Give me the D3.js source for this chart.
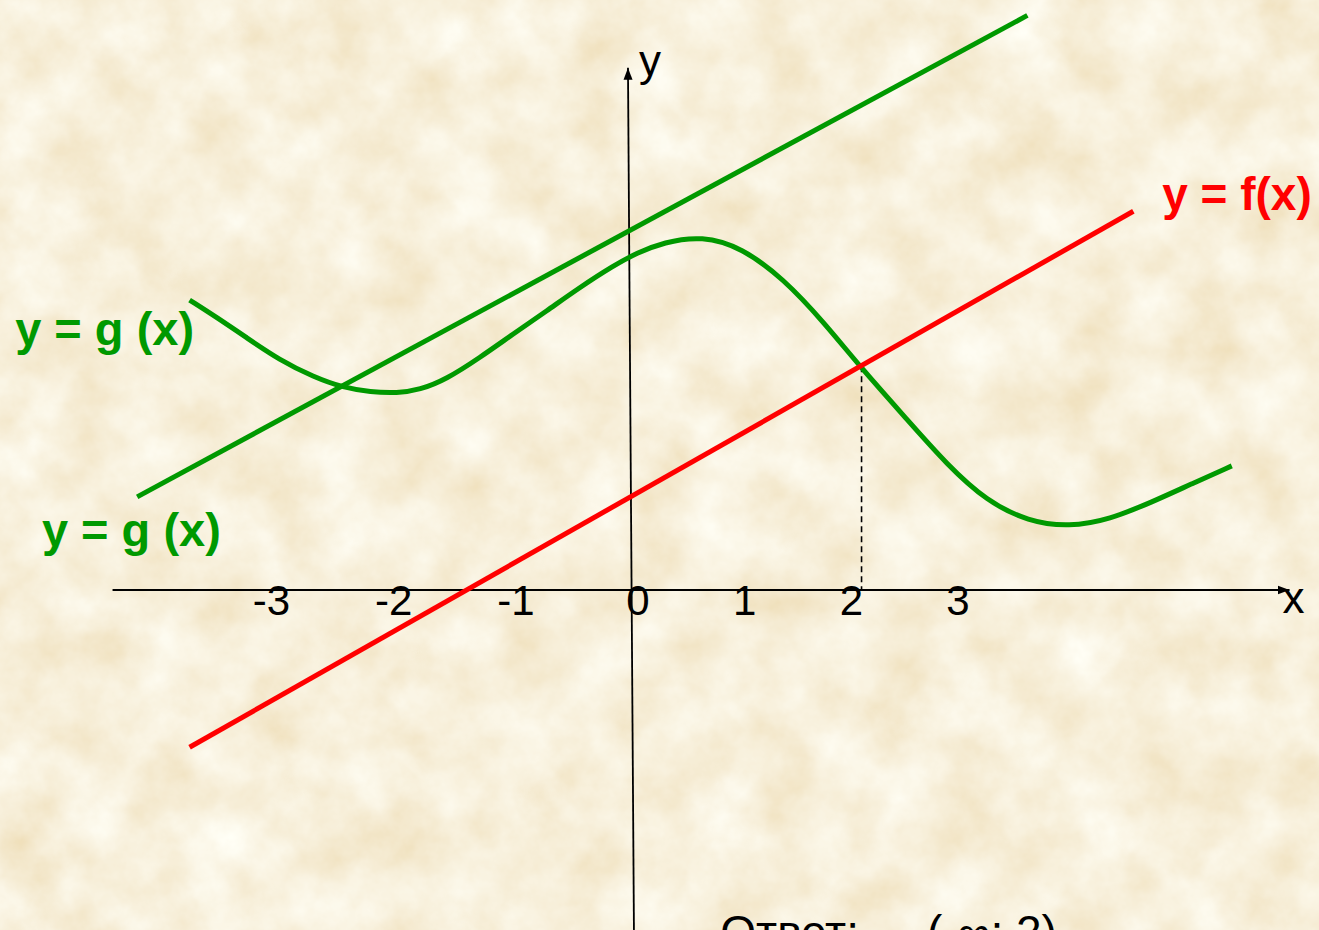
<!DOCTYPE html>
<html>
<head>
<meta charset="utf-8">
<script src="https://cdn.jsdelivr.net/npm/d3@7"></script>
<style>
  html, body { margin: 0; padding: 0; overflow: hidden; background: #efdcb5; }
  svg { display: block; }
  text { font-family: "Liberation Sans", Arial, sans-serif; }
</style>
</head>
<body>
<svg id="chart"></svg>
<script>
// размеры страницы
const width = 1319;
const height = 930;

// подписи оси x
const tickValues = [-3, -2, -1, 0, 1, 2, 3];

// y = f(x): прямая (концы отрезка)
const fLine = [[-4.13, -1.47], [4.69, 3.54]];

// y = g(x): касательная прямая
const gLine = [[-4.62, 0.87], [3.70, 5.37]];

// y = g(x): кривая, точки
const gCurveX = [-4.13, -3.88, -3.60, -3.29, -2.97, -2.69, -2.44, -2.19, -1.98, -1.73, -1.42, -1.11, -0.79, -0.48, -0.17, 0.05,
                 0.30, 0.66, 1.03, 1.42, 1.80, 2.15, 2.57, 2.95, 3.32, 3.71, 4.09, 4.47, 4.86, 5.23, 5.61];
const gCurveY = [2.71, 2.55, 2.36, 2.15, 1.99, 1.89, 1.85, 1.84, 1.87, 1.97, 2.17, 2.39, 2.61, 2.83, 3.03, 3.15,
                 3.25, 3.31, 3.20, 2.91, 2.50, 2.07, 1.60, 1.17, 0.83, 0.64, 0.59, 0.66, 0.82, 0.99, 1.16];

// точка пересечения f и g
const crossX = 2.15;
const crossY = 2.09;

// подписи
const labelF = 'y = f(x)';
const labelG = 'y = g (x)';
const answerHead = 'Ответ:';
const answerBody = '(-∞; 2)';

// шкалы
const x = d3.scaleLinear().domain([0, 1]).range([631.5, 738.5]);
const y = d3.scaleLinear().domain([0, 1]).range([590, 483]);
// подписи делений стоят неравномерно
const xLabel = d3.scaleLinear().domain([-3, 0, 3]).range([271.5, 638, 958]);

const svg = d3.select('#chart')
    .attr('width', width)
    .attr('height', height);

// фон "пергамент"
const defs = svg.append('defs');
const paper = defs.append('filter')
    .attr('id', 'paper')
    .attr('x', 0).attr('y', 0).attr('width', '100%').attr('height', '100%');
paper.append('feTurbulence')
    .attr('type', 'fractalNoise')
    .attr('baseFrequency', '0.016')
    .attr('numOctaves', 5)
    .attr('seed', 7)
    .attr('result', 'noise');
paper.append('feColorMatrix')
    .attr('in', 'noise')
    .attr('type', 'matrix')
    .attr('values', '0.16 0 0 0 0.855  0.30 0 0 0 0.72  0.50 0 0 0 0.46  0 0 0 0 1');

svg.append('rect')
    .attr('width', width)
    .attr('height', height)
    .attr('filter', 'url(#paper)');

const arrow = defs.append('marker')
    .attr('id', 'arrow')
    .attr('viewBox', '0 -5 12 10')
    .attr('refX', 12)
    .attr('refY', 0)
    .attr('markerWidth', 12)
    .attr('markerHeight', 10)
    .attr('markerUnits', 'userSpaceOnUse')
    .attr('orient', 'auto');
arrow.append('path').attr('d', 'M0,-4.5L12,0L0,4.5Z').attr('fill', '#000');

const line = d3.line().x(d => x(d[0])).y(d => y(d[1]));

// оси
svg.append('path')
    .attr('d', line([[-4.85, 0], [6.15, 0]]))
    .attr('stroke', '#000')
    .attr('stroke-width', 1.8)
    .attr('fill', 'none')
    .attr('marker-end', 'url(#arrow)');

svg.append('path')
    .attr('d', line([[0.023, -3.2], [-0.033, 4.88]]))
    .attr('stroke', '#000')
    .attr('stroke-width', 1.8)
    .attr('fill', 'none')
    .attr('marker-end', 'url(#arrow)');

svg.append('text')
    .attr('x', x(6.15) - 7)
    .attr('y', y(0) + 23)
    .attr('font-size', 44)
    .text('x');

svg.append('text')
    .attr('x', x(0.07))
    .attr('y', y(4.8))
    .attr('font-size', 44)
    .text('y');

// подписи делений
svg.append('g')
    .selectAll('text')
    .data(tickValues)
    .enter().append('text')
    .attr('x', d => xLabel(d))
    .attr('y', y(0) + 25)
    .attr('text-anchor', 'middle')
    .attr('font-size', 42)
    .text(d => d);

// пунктир от точки пересечения
svg.append('path')
    .attr('d', line([[crossX, crossY], [crossX, 0]]))
    .attr('stroke', '#000')
    .attr('stroke-width', 1.6)
    .attr('stroke-dasharray', '6,4')
    .attr('fill', 'none');

// касательная g
svg.append('path')
    .attr('d', line(gLine))
    .attr('stroke', '#009900')
    .attr('stroke-width', 5)
    .attr('fill', 'none');

// кривая g
svg.append('path')
    .attr('d', d3.line().curve(d3.curveBasis)
        .x((d, i) => x(gCurveX[i])).y(d => y(d))(gCurveY))
    .attr('stroke', '#009900')
    .attr('stroke-width', 5)
    .attr('fill', 'none');

// прямая f
svg.append('path')
    .attr('d', line(fLine))
    .attr('stroke', '#ff0000')
    .attr('stroke-width', 5)
    .attr('fill', 'none');

// подписи графиков
svg.append('text')
    .attr('x', x(4.96))
    .attr('y', y(3.55))
    .attr('font-size', 46)
    .attr('font-weight', 'bold')
    .attr('fill', '#ff0000')
    .text(labelF);

svg.append('text')
    .attr('x', x(-5.76))
    .attr('y', y(2.29))
    .attr('font-size', 47)
    .attr('font-weight', 'bold')
    .attr('fill', '#009900')
    .text(labelG);

svg.append('text')
    .attr('x', x(-5.51))
    .attr('y', y(0.41))
    .attr('font-size', 47)
    .attr('font-weight', 'bold')
    .attr('fill', '#009900')
    .text(labelG);

// ответ (обрезан снизу, как на исходной картинке)
const answer = svg.append('text')
    .attr('x', x(0.83))
    .attr('y', y(-3.35))
    .attr('font-size', 46);
answer.append('tspan').text(answerHead);
answer.append('tspan').attr('dx', 68).text(answerBody);
</script>
</body>
</html>
